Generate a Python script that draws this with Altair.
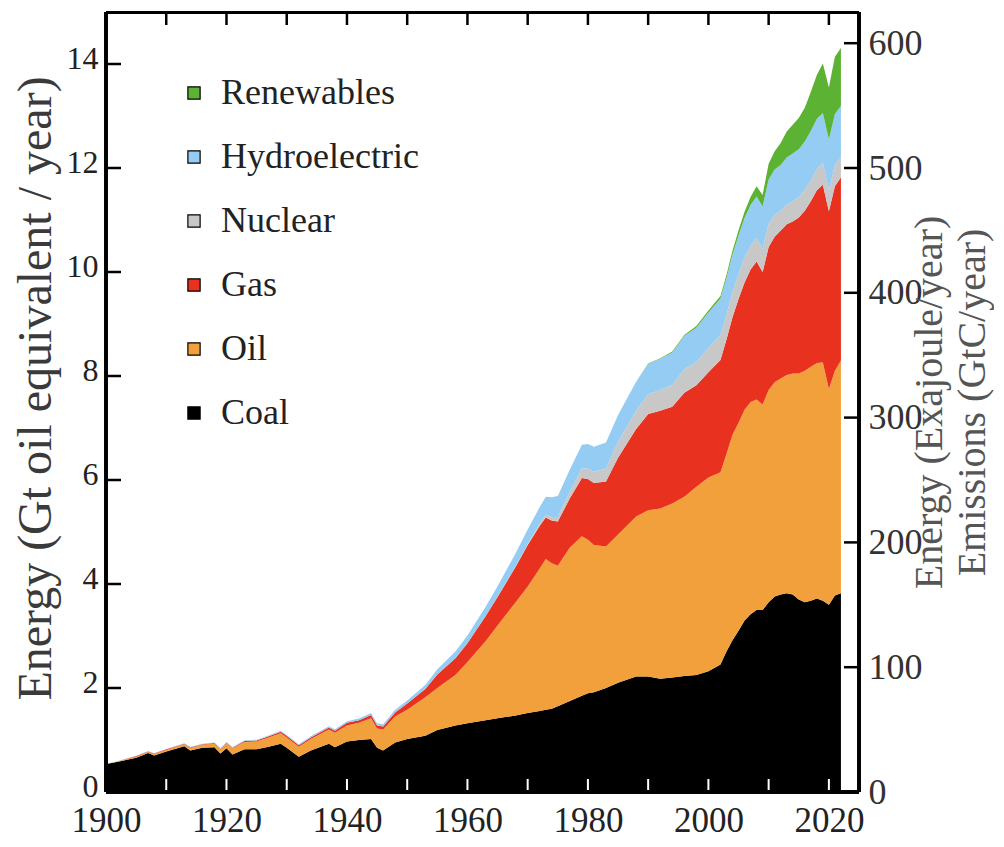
import altair as alt
import pandas as pd

# ---------------- data (Gt oil equivalent / year) ----------------
years = [1900, 1902, 1905, 1907, 1908,
         1910, 1913, 1914, 1916, 1918,
         1919, 1920, 1921, 1923, 1925,
         1927, 1929, 1930, 1932, 1934,
         1937, 1938, 1940, 1942, 1944,
         1945, 1946, 1948, 1950, 1953,
         1955, 1958, 1960, 1963, 1965,
         1968, 1970, 1972, 1973, 1974,
         1975, 1977, 1979, 1980, 1981,
         1983, 1985, 1988, 1990, 1992,
         1994, 1996, 1998, 2000, 2002,
         2003, 2004, 2005, 2006, 2007,
         2008, 2009, 2010, 2011, 2012,
         2013, 2014, 2015, 2016, 2017,
         2018, 2019, 2020, 2021, 2022]

coal = [0.54, 0.58, 0.66, 0.75, 0.70,
        0.78, 0.88, 0.80, 0.85, 0.86,
        0.74, 0.84, 0.72, 0.82, 0.82,
        0.87, 0.93, 0.85, 0.68, 0.80,
        0.93, 0.86, 0.97, 1.00, 1.02,
        0.85, 0.80, 0.95, 1.02, 1.08,
        1.19, 1.28, 1.32, 1.38, 1.42,
        1.47, 1.52, 1.56, 1.58, 1.60,
        1.65, 1.75, 1.85, 1.90, 1.92,
        2.00, 2.10, 2.22, 2.22, 2.18,
        2.20, 2.23, 2.25, 2.32, 2.45,
        2.70, 2.92, 3.10, 3.30, 3.42,
        3.50, 3.50, 3.65, 3.76, 3.80,
        3.82, 3.80, 3.70, 3.65, 3.68,
        3.72, 3.68, 3.60, 3.78, 3.82]

oil = [0.00, 0.01, 0.02, 0.02, 0.03,
       0.03, 0.04, 0.05, 0.06, 0.07,
       0.08, 0.10, 0.12, 0.14, 0.15,
       0.18, 0.20, 0.20, 0.19, 0.22,
       0.27, 0.28, 0.31, 0.33, 0.40,
       0.37, 0.40, 0.50, 0.56, 0.74,
       0.81, 0.97, 1.18, 1.52, 1.78,
       2.18, 2.43, 2.74, 2.90, 2.80,
       2.70, 2.95, 3.07, 2.95, 2.83,
       2.72, 2.85, 3.08, 3.20, 3.27,
       3.35, 3.45, 3.62, 3.73, 3.70,
       3.80, 3.95, 4.00, 4.05, 4.08,
       4.05, 3.95, 4.08, 4.12, 4.15,
       4.20, 4.25, 4.35, 4.45, 4.50,
       4.53, 4.58, 4.15, 4.32, 4.48]

gas = [0.00, 0.00, 0.01, 0.01, 0.01,
       0.01, 0.01, 0.01, 0.01, 0.01,
       0.01, 0.01, 0.01, 0.02, 0.02,
       0.02, 0.03, 0.03, 0.03, 0.03,
       0.04, 0.04, 0.05, 0.05, 0.06,
       0.06, 0.06, 0.08, 0.12, 0.16,
       0.26, 0.32, 0.36, 0.48, 0.55,
       0.68, 0.80, 0.82, 0.80, 0.82,
       0.85, 0.95, 1.12, 1.17, 1.19,
       1.25, 1.48, 1.68, 1.85, 1.88,
       1.86, 2.00, 1.95, 2.02, 2.16,
       2.20, 2.26, 2.38, 2.45, 2.55,
       2.65, 2.55, 2.75, 2.80, 2.85,
       2.90, 2.92, 3.00, 3.08, 3.18,
       3.32, 3.42, 3.42, 3.55, 3.52]

nuclear = [0, 0, 0, 0, 0,
           0, 0, 0, 0, 0,
           0, 0, 0, 0, 0,
           0, 0, 0, 0, 0,
           0, 0, 0, 0, 0,
           0, 0, 0, 0, 0,
           0, 0, 0, 0, 0.005,
           0.01, 0.02, 0.04, 0.05, 0.07,
           0.09, 0.13, 0.18, 0.20, 0.22,
           0.25, 0.30, 0.35, 0.38, 0.40,
           0.42, 0.45, 0.45, 0.47, 0.48,
           0.47, 0.48, 0.48, 0.48, 0.46,
           0.45, 0.44, 0.45, 0.42, 0.38,
           0.38, 0.39, 0.39, 0.40, 0.40,
           0.41, 0.42, 0.40, 0.41, 0.39]

hydro = [0.005, 0.005, 0.006, 0.007, 0.007,
         0.008, 0.009, 0.009, 0.010, 0.011,
         0.012, 0.013, 0.013, 0.014, 0.015,
         0.017, 0.018, 0.018, 0.018, 0.020,
         0.025, 0.027, 0.030, 0.035, 0.040,
         0.040, 0.042, 0.050, 0.060, 0.080,
         0.10, 0.13, 0.15, 0.18, 0.20,
         0.25, 0.28, 0.32, 0.35, 0.38,
         0.40, 0.42, 0.46, 0.47, 0.48,
         0.50, 0.52, 0.56, 0.58, 0.60,
         0.62, 0.64, 0.66, 0.68, 0.70,
         0.71, 0.72, 0.74, 0.76, 0.78,
         0.80, 0.82, 0.85, 0.87, 0.88,
         0.90, 0.92, 0.92, 0.93, 0.95,
         0.96, 0.96, 0.98, 0.98, 0.98]

renewables = [0, 0, 0, 0, 0,
              0, 0, 0, 0, 0,
              0, 0, 0, 0, 0,
              0, 0, 0, 0, 0,
              0, 0, 0, 0, 0,
              0, 0, 0, 0, 0,
              0, 0, 0, 0, 0,
              0, 0, 0, 0, 0,
              0, 0, 0, 0, 0,
              0, 0, 0, 0.01, 0.01,
              0.02, 0.02, 0.03, 0.04, 0.05,
              0.06, 0.08, 0.10, 0.12, 0.15,
              0.20, 0.22, 0.30, 0.35, 0.42,
              0.50, 0.55, 0.60, 0.65, 0.75,
              0.85, 0.95, 1.00, 1.10, 1.12]

stack_order = ["Coal", "Oil", "Gas", "Nuclear", "Hydroelectric", "Renewables"]
legend_order = ["Renewables", "Hydroelectric", "Nuclear", "Gas", "Oil", "Coal"]
legend_colors = ["#5CB232", "#95CCF3", "#C8C8C8", "#E8321F", "#F1A03B", "#000000"]

left_ticks = [0, 2, 4, 6, 8, 10, 12, 14]
right_ticks = [0, 100, 200, 300, 400, 500, 600]
year_ticks = [1900, 1910, 1920, 1930, 1940, 1950, 1960, 1970, 1980, 1990, 2000, 2010, 2020]
year_labels = [1900, 1920, 1940, 1960, 1980, 2000, 2020]

left_title = "Energy (Gt oil equivalent / year)"
right_title = ["Energy (Exajoule/year)", "Emissions (GtC/year)"]

# ---------------- build table ----------------
series = [coal, oil, gas, nuclear, hydro, renewables]
rows = []
for i, yr in enumerate(years):
    for rank, (name, vals) in enumerate(zip(stack_order, series)):
        rows.append({"year": yr, "source": name, "value": vals[i], "rank": rank})
df = pd.DataFrame(rows)
ticks_df = pd.DataFrame({"year": year_ticks})

FONT = "Liberation Serif"
W, H = 753, 780
xscale = alt.Scale(domain=[1900, 2025], nice=False, zero=False)
yscale = alt.Scale(domain=[0, 15], nice=False)
escale = alt.Scale(domain=[0, 625], nice=False)
cscale = alt.Scale(domain=legend_order, range=legend_colors)

xaxis = alt.Axis(values=year_labels, format="d", ticks=False, domain=False, grid=False,
                 orient="bottom", labelFont=FONT, labelFontSize=35, labelColor="#222",
                 labelPadding=11, labelFlush=False, labelOverlap=False, title=None)

area = alt.Chart(df).mark_area(interpolate="linear").encode(
    x=alt.X("year:Q", scale=xscale, axis=xaxis),
    y=alt.Y("value:Q", stack="zero", scale=yscale,
            axis=alt.Axis(values=left_ticks, ticks=False, domain=False, grid=False,
                          labelFont=FONT, labelFontSize=32, labelColor="#222", labelPadding=8,
                          labelOffset=-6, labelFlush=False, labelOverlap=False,
                          title=left_title, titleFont=FONT, titleFontSize=48,
                          titleFontWeight="normal", titleColor="#3a3a3a",
                          titleAngle=270, titleX=-70, titleY=376,
                          titleAlign="center", titleBaseline="middle")),
    color=alt.Color("source:N", scale=cscale,
                    legend=alt.Legend(orient="none", legendX=70, legendY=63, title=None,
                                      symbolType="square", symbolSize=150,
                                      symbolStrokeColor="black", symbolStrokeWidth=1.2,
                                      symbolOpacity=1, labelLimit=0,
                                      labelFont=FONT, labelFontSize=36, labelColor="#222",
                                      labelOffset=9, rowPadding=28)),
    order=alt.Order("rank:Q", sort="ascending"),
)

left_tick_marks = alt.Chart(pd.DataFrame({"v": left_ticks})).mark_rule(
    color="black", strokeWidth=2.5).encode(
    y=alt.Y("v:Q", scale=yscale, axis=None),
    x=alt.value(0), x2=alt.value(15))

top_tick_marks = alt.Chart(ticks_df).mark_rule(
    color="black", strokeWidth=2.5).encode(
    x=alt.X("year:Q", scale=xscale, axis=xaxis),
    y=alt.value(0), y2=alt.value(13))

bottom_tick_marks = alt.Chart(ticks_df).mark_rule(
    color="white", strokeWidth=2).encode(
    x=alt.X("year:Q", scale=xscale, axis=xaxis),
    y=alt.value(767), y2=alt.value(779))

# plot frame (drawn on top of the areas)
frame_top = alt.Chart(ticks_df).mark_rule(color="black", strokeWidth=3).encode(
    x=alt.value(0), x2=alt.value(W), y=alt.value(0.5))
frame_bottom = alt.Chart(ticks_df).mark_rule(color="black", strokeWidth=2.5).encode(
    x=alt.value(0), x2=alt.value(W), y=alt.value(H))
frame_left = alt.Chart(ticks_df).mark_rule(color="black", strokeWidth=2.5).encode(
    x=alt.value(0), y=alt.value(0), y2=alt.value(H))
frame_right = alt.Chart(ticks_df).mark_rule(color="black", strokeWidth=2.5).encode(
    x=alt.value(W), y=alt.value(0), y2=alt.value(H))

right_tick_marks = alt.Chart(pd.DataFrame({"e": right_ticks})).mark_rule(
    color="black", strokeWidth=2.5).encode(
    y=alt.Y("e:Q", scale=escale,
            axis=alt.Axis(orient="right", values=right_ticks, ticks=False, domain=False, grid=False,
                          labelFont=FONT, labelFontSize=36, labelColor="#333", labelPadding=9,
                          labelFlush=False, labelOverlap=False,
                          title=right_title, titleFont=FONT, titleFontSize=40,
                          titleFontWeight="normal", titleColor="#555",
                          titleAngle=270, titleX=70, titleY=390, titleLineHeight=43,
                          titleAlign="center", titleBaseline="middle")),
    x=alt.value(738), x2=alt.value(753))

chart = alt.layer(
    area, left_tick_marks, top_tick_marks, bottom_tick_marks,
    frame_top, frame_bottom, frame_left, frame_right, right_tick_marks
).resolve_scale(y="independent").properties(
    width=W, height=H,
    autosize=alt.AutoSizeParams(type="none"),
    padding={"left": 98, "top": 4, "right": 135, "bottom": 47},
).configure_view(stroke="black", strokeWidth=2.5).configure(background="white")

chart.save("out.html", embed_options={"renderer": "svg", "actions": False})
